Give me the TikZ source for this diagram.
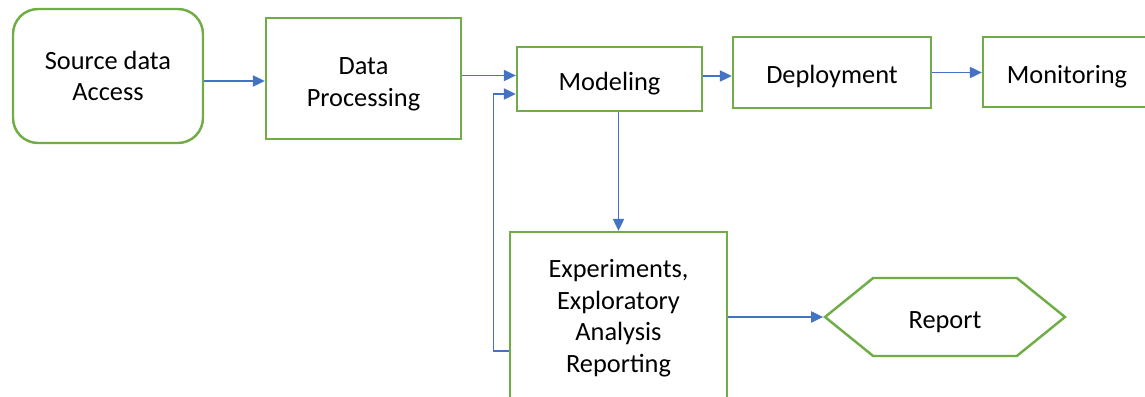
\documentclass[tikz,border=0pt]{standalone}
\usepackage{fontspec}
\setmainfont{Carlito}
\usetikzlibrary{
  arrows.meta,
  shapes.symbols,
  positioning
}
\definecolor{boxgreen}{HTML}{70AD47}
\definecolor{linkblue}{HTML}{4472C4}
\tikzset{
  stage/.style={draw=boxgreen,line width=1.4pt,fill=white,align=center,
    inner sep=2pt,font=\fontsize{15}{18}\selectfont,
    execute at begin node={\rule{0pt}{15.5pt}}},
  link/.style={draw=linkblue,line width=0.7pt,-{Triangle[length=6.8pt,width=6.4pt]}}
}

\begin{document}
\begin{tikzpicture}[x=0.02cm,y=-0.02cm]
    %initialisation
    \clip (0,0) rectangle (1145,396);
    \useasboundingbox (0,0) rectangle (1145,396);
    %definitions
    \node[stage,rounded corners=0.5cm,minimum width=3.8cm,minimum height=2.68cm] (src) at (108,76) {Source data\\Access};
    \node[stage,minimum width=3.9cm,minimum height=2.42cm] (proc) at (363.5,78.5) {\rule{0pt}{16.5pt}Data\\Processing};
    \node[stage,minimum width=3.7cm,minimum height=1.28cm] (model) at (609.5,79) {Modeling};
    \node[stage,minimum width=3.96cm,minimum height=1.42cm] (deploy) at (832,72.5) {Deployment};
    \node[stage,minimum width=3.36cm,minimum height=1.4cm] (monitor) at (1067,72) {Monitoring};
    \node[stage,minimum width=4.34cm,minimum height=3.32cm] (exper) at (618.5,315) {\rule{0pt}{14pt}Experiments,\\Exploratory\\Analysis\\Reporting};
    \node[stage,shape=signal,signal to=west and east,signal pointer angle=78,
      minimum width=4.8cm,minimum height=1.56cm] (report) at (945,317) {Report};
    %links
    \draw[link] ([yshift=-0.1cm]src.east) -- ([yshift=-0.1cm]src.east -| proc.west);
    \draw[link] ([yshift=0.06cm]proc.east) -- ([yshift=0.06cm]proc.east -| model.west);
    \draw[link] ([yshift=0.06cm]model.east) -- ([yshift=0.06cm]model.east -| deploy.west);
    \draw[link] (deploy.east) -- (deploy.east -| monitor.west);
    \draw[link] (exper.north |- model.south) -- (exper.north);
    \draw[link] ([yshift=-0.72cm]exper.west) -- ++(-0.3cm,0) |- ([yshift=-0.3cm]model.west);
    \draw[link] (report.west -| exper.east) -- (report.west);
\end{tikzpicture}
\end{document}
